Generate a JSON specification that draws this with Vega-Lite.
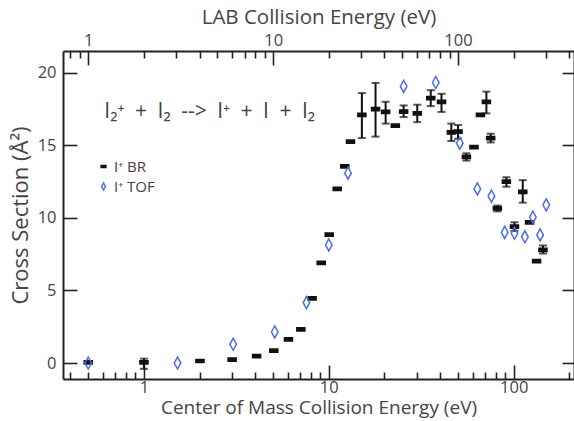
{
  "$schema": "https://vega.github.io/schema/vega-lite/v6.json",
  "width": 511,
  "height": 328,
  "autosize": "none",
  "padding": {"left": 63, "top": 51, "right": 0, "bottom": 42},
  "background": "white",
  "config": {
    "view": {"stroke": null},
    "font": "Open Sans",
    "axis": {
      "grid": false,
      "domainColor": "#222",
      "domainWidth": 2,
      "tickColor": "#222",
      "tickWidth": 1.6,
      "labelFont": "Open Sans",
      "labelFontSize": 16.5,
      "labelColor": "#444",
      "titleFont": "Open Sans",
      "titleFontSize": 19,
      "titleFontWeight": "normal",
      "titleColor": "#444",
      "labelOverlap": false,
      "labelBound": false,
      "labelFlush": false
    }
  },
  "datasets": {
    "pts": [
      {"series": "I⁺ BR", "E": 0.5, "s": 0.05},
      {"series": "I⁺ BR", "E": 1.0, "s": 0.05, "lo": -0.4, "hi": 0.3},
      {"series": "I⁺ BR", "E": 2.01, "s": 0.14},
      {"series": "I⁺ BR", "E": 3.0, "s": 0.23},
      {"series": "I⁺ BR", "E": 4.07, "s": 0.48},
      {"series": "I⁺ BR", "E": 5.04, "s": 0.85},
      {"series": "I⁺ BR", "E": 6.05, "s": 1.63},
      {"series": "I⁺ BR", "E": 7.06, "s": 2.32},
      {"series": "I⁺ BR", "E": 8.12, "s": 4.46},
      {"series": "I⁺ BR", "E": 9.1, "s": 6.9},
      {"series": "I⁺ BR", "E": 10.05, "s": 8.85},
      {"series": "I⁺ BR", "E": 11.1, "s": 12.0},
      {"series": "I⁺ BR", "E": 12.2, "s": 13.55},
      {"series": "I⁺ BR", "E": 13.1, "s": 15.25},
      {"series": "I⁺ BR", "E": 15.1, "s": 17.1, "lo": 15.5, "hi": 18.6},
      {"series": "I⁺ BR", "E": 17.9, "s": 17.5, "lo": 15.6, "hi": 19.3},
      {"series": "I⁺ BR", "E": 20.3, "s": 17.3, "lo": 16.5, "hi": 18.0},
      {"series": "I⁺ BR", "E": 22.9, "s": 16.35},
      {"series": "I⁺ BR", "E": 25.4, "s": 17.33, "lo": 16.95, "hi": 17.75},
      {"series": "I⁺ BR", "E": 30.1, "s": 17.2, "lo": 16.6, "hi": 17.8},
      {"series": "I⁺ BR", "E": 35.6, "s": 18.25, "lo": 17.7, "hi": 18.8},
      {"series": "I⁺ BR", "E": 40.7, "s": 18.0, "lo": 17.3, "hi": 18.55},
      {"series": "I⁺ BR", "E": 46.0, "s": 15.9, "lo": 15.3, "hi": 16.5},
      {"series": "I⁺ BR", "E": 50.0, "s": 15.95, "lo": 15.45, "hi": 16.4},
      {"series": "I⁺ BR", "E": 55.5, "s": 14.2, "lo": 13.95, "hi": 14.45},
      {"series": "I⁺ BR", "E": 61.0, "s": 14.87},
      {"series": "I⁺ BR", "E": 66.1, "s": 17.1},
      {"series": "I⁺ BR", "E": 71.2, "s": 18.0, "lo": 17.2, "hi": 18.7},
      {"series": "I⁺ BR", "E": 75.1, "s": 15.5, "lo": 15.2, "hi": 15.8},
      {"series": "I⁺ BR", "E": 81.6, "s": 10.65, "lo": 10.45, "hi": 10.85},
      {"series": "I⁺ BR", "E": 91.3, "s": 12.5, "lo": 12.15, "hi": 12.8},
      {"series": "I⁺ BR", "E": 101, "s": 9.4, "lo": 9.1, "hi": 9.7},
      {"series": "I⁺ BR", "E": 112, "s": 11.8, "lo": 11.05, "hi": 12.6},
      {"series": "I⁺ BR", "E": 122, "s": 9.7},
      {"series": "I⁺ BR", "E": 133, "s": 7.03},
      {"series": "I⁺ BR", "E": 144, "s": 7.8, "lo": 7.55, "hi": 8.1},
      {"series": "I⁺ TOF", "E": 0.5, "s": 0.0},
      {"series": "I⁺ TOF", "E": 1.52, "s": 0.0},
      {"series": "I⁺ TOF", "E": 3.04, "s": 1.29},
      {"series": "I⁺ TOF", "E": 5.1, "s": 2.14},
      {"series": "I⁺ TOF", "E": 7.57, "s": 4.16},
      {"series": "I⁺ TOF", "E": 10.0, "s": 8.14},
      {"series": "I⁺ TOF", "E": 12.7, "s": 13.08},
      {"series": "I⁺ TOF", "E": 25.4, "s": 19.06},
      {"series": "I⁺ TOF", "E": 37.9, "s": 19.33},
      {"series": "I⁺ TOF", "E": 51.1, "s": 15.15},
      {"series": "I⁺ TOF", "E": 63.6, "s": 12.0},
      {"series": "I⁺ TOF", "E": 75.8, "s": 11.5},
      {"series": "I⁺ TOF", "E": 89.4, "s": 9.0},
      {"series": "I⁺ TOF", "E": 101, "s": 8.94},
      {"series": "I⁺ TOF", "E": 115, "s": 8.7},
      {"series": "I⁺ TOF", "E": 127, "s": 10.05},
      {"series": "I⁺ TOF", "E": 139, "s": 8.83},
      {"series": "I⁺ TOF", "E": 150, "s": 10.9}
    ],
    "note": [
      {"E": 2.27, "s": 17.3, "t": "I₂⁺\u2002+\u2002I₂\u2002-->\u2002I⁺\u2002+\u2002I\u2002+\u2002I₂"}
    ]
  },
  "layer": [
    {
      "data": {"name": "pts"},
      "transform": [{"filter": "isValid(datum.lo)"}],
      "mark": {
        "type": "errorbar",
        "color": "#111",
        "ticks": {"size": 8, "thickness": 2, "color": "#111"},
        "rule": {"strokeWidth": 2, "color": "#111"}
      },
      "encoding": {
        "x": {
          "field": "E",
          "type": "quantitative",
          "scale": {"type": "log", "domain": [0.365, 212], "nice": false},
          "axis": {
            "orient": "bottom",
            "title": "Center of Mass Collision Energy (eV)",
            "values": [1, 10, 100],
            "labelExpr": "format(datum.value, 'd')",
            "tickSize": -14,
            "labelPadding": 14,
            "titlePadding": 3
          }
        },
        "y": {
          "field": "lo",
          "type": "quantitative",
          "scale": {"domain": [-1.1, 21.5], "nice": false, "zero": false},
          "axis": {
            "orient": "left",
            "title": "Cross Section (Å²)",
            "titleFontSize": 22,
            "values": [0, 5, 10, 15, 20],
            "tickSize": -14,
            "labelPadding": 21,
            "titlePadding": 5
          }
        },
        "y2": {"field": "hi"}
      }
    },
    {
      "data": {"name": "pts"},
      "transform": [{"filter": "datum.series == 'I⁺ BR'"}],
      "mark": {"type": "point", "size": 144, "strokeWidth": 1.5, "opacity": 1},
      "encoding": {
        "x": {
          "field": "E",
          "type": "quantitative",
          "axis": {
            "orient": "top",
            "title": "LAB Collision Energy (eV)",
            "titleFontSize": 20.5,
            "values": [0.5, 5, 50],
            "labelExpr": "format(datum.value * 2, 'd')",
            "tickSize": -14,
            "labelPadding": 17,
            "titlePadding": 5
          }
        },
        "y": {
          "field": "s",
          "type": "quantitative",
          "axis": {
            "orient": "right",
            "title": null,
            "labels": false,
            "values": [0, 5, 10, 15, 20],
            "tickSize": -12
          }
        },
        "shape": {
          "field": "series",
          "type": "nominal",
          "scale": {"domain": ["I⁺ BR", "I⁺ TOF"], "range": ["M-0.67,-0.27L0.67,-0.27L0.67,0.27L-0.67,0.27Z", "M0,-1L0.55,0L0,1L-0.55,0Z"]},
          "legend": {
            "title": null,
            "orient": "none",
            "legendX": 33,
            "legendY": 108,
            "labelFontSize": 15,
            "labelColor": "#444",
            "labelFont": "Open Sans",
            "symbolSize": 50,
            "rowPadding": 4,
            "labelOffset": 3
          }
        },
        "stroke": {
          "field": "series",
          "type": "nominal",
          "scale": {"domain": ["I⁺ BR", "I⁺ TOF"], "range": ["#111111", "#4a6cf0"]}
        },
        "fill": {
          "field": "series",
          "type": "nominal",
          "scale": {"domain": ["I⁺ BR", "I⁺ TOF"], "range": ["#111111", "transparent"]}
        }
      }
    },
    {
      "data": {"name": "pts"},
      "transform": [{"filter": "datum.series == 'I⁺ TOF'"}],
      "mark": {"type": "point", "size": 144, "strokeWidth": 1.5, "opacity": 1},
      "encoding": {
        "x": {
          "field": "E",
          "type": "quantitative",
          "axis": {
            "orient": "top",
            "title": null,
            "labels": false,
            "domain": false,
            "values": [0.4, 0.45, 1, 1.5, 2, 2.5, 3, 3.5, 4, 4.5, 10, 15, 20, 25, 30, 35, 40, 45, 100, 150, 200],
            "tickSize": -7
          }
        },
        "y": {"field": "s", "type": "quantitative", "axis": null},
        "shape": {"field": "series", "type": "nominal"},
        "stroke": {"field": "series", "type": "nominal"},
        "fill": {"field": "series", "type": "nominal"}
      }
    },
    {
      "data": {"name": "note"},
      "mark": {"type": "text", "fontSize": 21, "font": "Open Sans", "color": "#444", "align": "center", "baseline": "middle"},
      "encoding": {
        "x": {
          "field": "E",
          "type": "quantitative",
          "axis": {
            "orient": "bottom",
            "title": null,
            "labels": false,
            "domain": false,
            "values": [0.4, 0.5, 0.6, 0.7, 0.8, 0.9, 2, 3, 4, 5, 6, 7, 8, 9, 20, 30, 40, 50, 60, 70, 80, 90, 200],
            "tickSize": -7
          }
        },
        "y": {"field": "s", "type": "quantitative", "axis": null},
        "text": {"field": "t"}
      }
    }
  ],
  "resolve": {"axis": {"x": "independent", "y": "independent"}}
}
